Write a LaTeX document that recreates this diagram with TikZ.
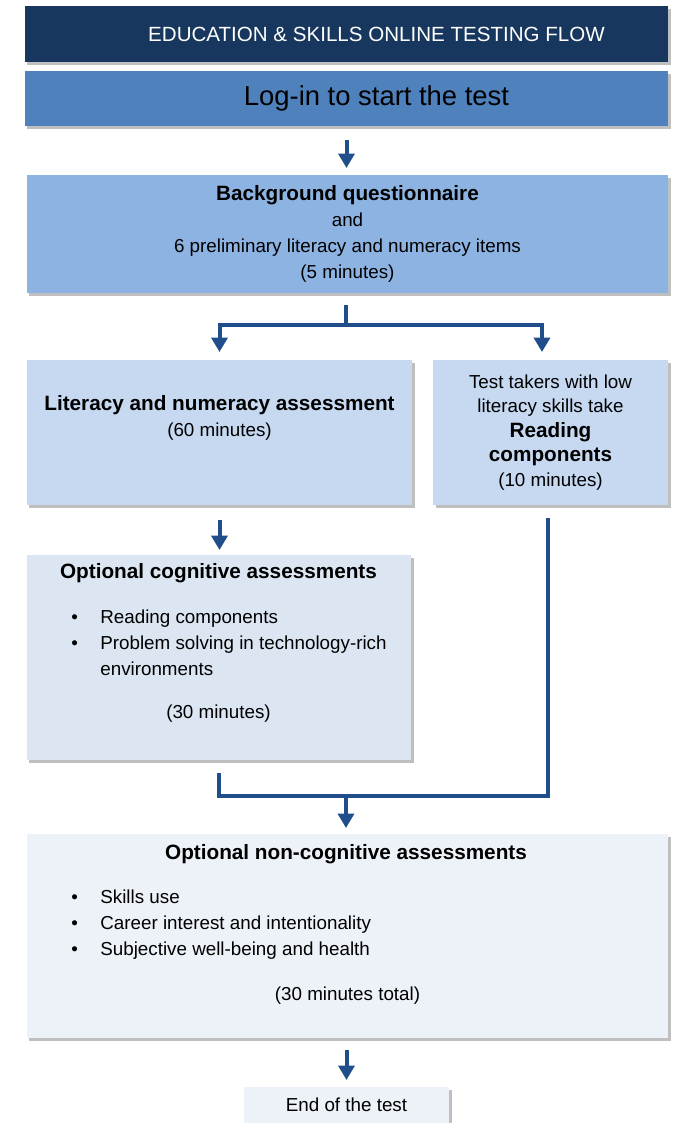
\documentclass[tikz,border=0pt]{standalone}
\usepackage{fontspec}
\setmainfont{Liberation Sans}
\usetikzlibrary{arrows.meta,shadows}
\definecolor{navy}{HTML}{17375E}
\definecolor{midblue}{HTML}{4F81BD}
\definecolor{skyblue}{HTML}{8DB3E2}
\definecolor{paleblue}{HTML}{C6D9F1}
\definecolor{mistblue}{HTML}{DCE6F2}
\definecolor{iceblue}{HTML}{EDF1F8}
\definecolor{flowblue}{HTML}{1F4E8A}
\newcommand{\bodyfont}{\fontsize{10.7}{14.7}\selectfont}
\newcommand{\headfont}{\fontsize{11.8}{14.7}\selectfont\bfseries}
\begin{document}
\begin{tikzpicture}[x=0.02cm,y=-0.02cm,
  panel/.style={rectangle,inner sep=0pt,outer sep=0pt,anchor=north west,
    drop shadow={shadow xshift=0.05cm,shadow yshift=-0.05cm,fill=black!50,opacity=.5}},
  sz/.style 2 args={minimum width=#1*0.02cm,minimum height=#2*0.02cm},
  flowline/.style={draw=flowblue,line width=0.08cm},
  flow/.style={flowline,-{Triangle[width=0.32cm,length=0.29cm]}},
  txt/.style={inner sep=0pt,font=\bodyfont,align=center}]
\useasboundingbox (0,0) rectangle (673,1123);
% boxes
\node[panel,fill=navy,sz={643}{56},text=white,font=\fontsize{11.7}{14}\selectfont] (head) at (25,6)
  {\hspace*{1.2cm}EDUCATION \& SKILLS ONLINE TESTING FLOW};
\node[panel,fill=midblue,sz={643}{55},font=\fontsize{15.6}{18}\selectfont] (login) at (25,71)
  {\hspace*{1.2cm}Log-in to start the test};
\node[panel,fill=skyblue,sz={641}{118},align=center,font=\bodyfont] (bgq) at (27,175)
  {{\headfont Background questionnaire}\\and\\6 preliminary literacy and numeracy items\\(5 minutes)};
\node[panel,fill=paleblue,sz={385}{145}] (lit) at (27,360) {};
\node[panel,fill=paleblue,sz={235}{145},align=center,font=\fontsize{10.7}{13.9}\selectfont] (read) at (433,360)
  {Test takers with low\\literacy skills take\\{\headfont Reading}\\{\headfont components}\\(10 minutes)};
\node[panel,fill=mistblue,sz={384}{205}] (cog) at (27,555) {};
\node[panel,fill=iceblue,sz={641}{204}] (noncog) at (27,834) {};
\node[panel,fill=iceblue,sz={205}{36},font=\bodyfont] (endbox) at (244,1087) {End of the test};
% texts
\node[txt] (lit-t) at (219.5,418) {{\headfont Literacy and numeracy assessment}\\(60 minutes)};
\node[txt,font=\headfont] (cog-t) at (218.5,573) {Optional cognitive assessments};
\node[txt,anchor=north west] (cog-l) at (71,605) {\begin{tabular}{@{}p{0.58cm}@{}l@{}}
  \textbullet & Reading components\\
  \textbullet & Problem solving in technology-rich\\
   & environments\end{tabular}};
\node[txt] (cog-m) at (218.5,714) {(30 minutes)};
\node[txt,font=\headfont] (non-t) at (346,854) {Optional non-cognitive assessments};
\node[txt,anchor=north west] (non-l) at (71,885) {\begin{tabular}{@{}p{0.58cm}@{}l@{}}
  \textbullet & Skills use\\
  \textbullet & Career interest and intentionality\\
  \textbullet & Subjective well-being and health\end{tabular}};
\node[txt] (non-m) at (347.5,996) {(30 minutes total)};
% connectors
\coordinate (split) at (346,325);
\coordinate (merge) at (346,796);
\draw[flow,shorten <=0.28cm,shorten >=0.14cm] (login.south) -- (login.south |- bgq.north);
\draw[flowline,shorten <=0.24cm] (split |- bgq.south) -- (split);
\draw[flow,shorten >=0.16cm] (split) -| (lit.north);
\draw[flow,shorten >=0.16cm] (split) -| ([xshift=-0.17cm]read.north);
\draw[flow,shorten <=0.3cm,shorten >=0.1cm] (lit.south) -- (lit.south |- cog.north);
\draw[flowline] ([yshift=-0.26cm]cog.south) |- (merge) -| ([xshift=-0.05cm,yshift=-0.26cm]read.south);
\draw[flow,shorten >=0.12cm] (merge) -- (merge |- noncog.north);
\draw[flow,shorten <=0.24cm,shorten >=0.14cm] (endbox.north |- noncog.south) -- (endbox.north);
\end{tikzpicture}
\end{document}
